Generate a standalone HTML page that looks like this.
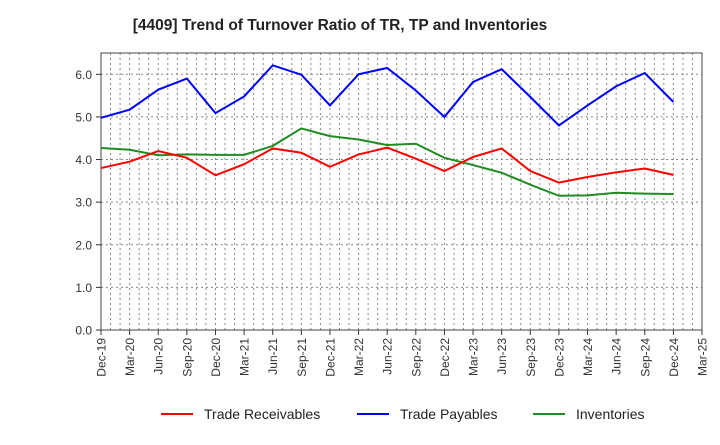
<!DOCTYPE html>
<html><head><meta charset="utf-8"><style>
body{margin:0;background:#fff;font-family:"Liberation Sans",sans-serif}
</style></head><body>
<svg id="c" width="720" height="440" xmlns="http://www.w3.org/2000/svg">
<text x="340" y="30" text-anchor="middle" font-size="15.5" font-weight="bold" fill="#222">[4409]  Trend of Turnover Ratio of TR, TP and Inventories</text>
</svg>
<script>
const categories=["Dec-19","Mar-20","Jun-20","Sep-20","Dec-20","Mar-21","Jun-21","Sep-21","Dec-21","Mar-22","Jun-22","Sep-22","Dec-22","Mar-23","Jun-23","Sep-23","Dec-23","Mar-24","Jun-24","Sep-24","Dec-24","Mar-25"];
const receivables=[3.80,3.95,4.20,4.04,3.63,3.89,4.26,4.16,3.83,4.12,4.28,4.02,3.73,4.06,4.26,3.73,3.46,3.59,3.70,3.79,3.64];
const payables=[4.98,5.17,5.64,5.90,5.09,5.48,6.21,5.99,5.27,6.00,6.15,5.62,5.00,5.82,6.12,5.47,4.80,5.27,5.72,6.03,5.35];
const inventories=[4.27,4.23,4.10,4.12,4.11,4.11,4.32,4.73,4.55,4.47,4.34,4.37,4.04,3.87,3.69,3.41,3.15,3.16,3.22,3.20,3.19];
const yTicks=[0,1,2,3,4,5,6];
const yLabels=["0.0","1.0","2.0","3.0","4.0","5.0","6.0"];
const NS="http://www.w3.org/2000/svg";
const svg=document.getElementById('c');
const L=101,R=702,T=53,B=330,YMAX=6.5;
const xs=i=>L+i*(R-L)/(categories.length-1);
const ys=v=>B-v*(B-T)/YMAX;
function mk(t,a){const e=document.createElementNS(NS,t);for(const k in a)e.setAttribute(k,a[k]);svg.appendChild(e);return e;}
for(let m=0;m<=63;m++){const x=L+m*(R-L)/63;
const g=mk('line',{x1:x,x2:x,y1:T,y2:B,stroke:'#888','stroke-width':1,'stroke-dasharray':'2,3'});

}
yTicks.forEach((v,i)=>{const y=ys(v);
const g=mk('line',{x1:L,x2:R,y1:y,y2:y,stroke:'#888','stroke-width':1,'stroke-dasharray':'2,3'});


mk('line',{x1:L-5,x2:L,y1:y,y2:y,stroke:'#333'});
const t=mk('text',{x:L-9,y:y+4.5,'text-anchor':'end','font-size':12,fill:'#333'});t.textContent=yLabels[i];

});
categories.forEach((c,i)=>{const x=xs(i);
mk('line',{x1:x,x2:x,y1:B,y2:B+5,stroke:'#333'});
const t=mk('text',{x:0,y:0,'text-anchor':'end','font-size':12,fill:'#333',transform:`translate(${x+4.5},${B+8}) rotate(-90)`});t.textContent=c;

});
const fr=mk('rect',{x:L,y:T,width:R-L,height:B-T,fill:'none',stroke:'#444','stroke-width':1});


function series(arr,color,name){
const p=mk('polyline',{points:arr.map((v,i)=>xs(i)+','+ys(v)).join(' '),fill:'none',stroke:color,'stroke-width':2});

}
series(inventories,'#228B22','inventories-line');
series(receivables,'#ff0000','trade-receivables-line');
series(payables,'#0000ff','trade-payables-line');
const leg=[["Trade Receivables","#ff0000",161],["Trade Payables","#0000ff",357],["Inventories","#228B22",533]];
leg.forEach(l=>{
const ln=mk('line',{x1:l[2],x2:l[2]+32,y1:414,y2:414,stroke:l[1],'stroke-width':2});


const t=mk('text',{x:l[2]+43,y:419,'font-size':14,fill:'#222'});t.textContent=l[0];

});
</script>
</body></html>
